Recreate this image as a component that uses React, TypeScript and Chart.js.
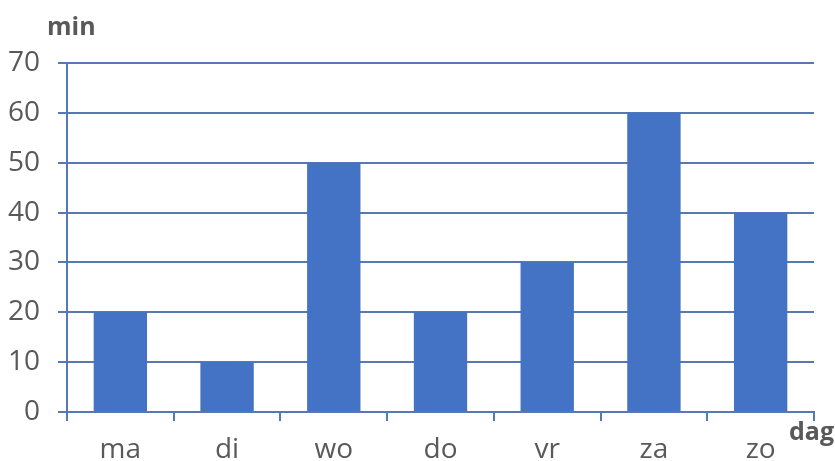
import React, { useEffect, useRef } from "react";
import { Chart, registerables } from "chart.js";

Chart.register(...registerables);

const categories = ["ma", "di", "wo", "do", "vr", "za", "zo"];
const minutes = [20, 10, 50, 20, 30, 60, 40];
const yTitle = "min";
const xTitle = "dag";

const textColor = "#595959";
const gridColor = "#5579b0";
const barColor = "#4472C4";

const titlesPlugin = {
  id: "cornerTitles",
  afterDraw(chart: any) {
    const ctx = chart.ctx;
    ctx.save();
    ctx.fillStyle = textColor;
    ctx.font = "bold 25px 'Open Sans'";
    ctx.textBaseline = "alphabetic";
    ctx.textAlign = "left";
    ctx.fillText(yTitle, 47, 35);
    ctx.fillText(xTitle, 789, 440);
    ctx.restore();
  },
};

export default function App() {
  const ref = useRef<HTMLCanvasElement>(null);
  useEffect(() => {
    if (!ref.current) return;
    const chart = new Chart(ref.current, {
      type: "bar",
      data: {
        labels: categories,
        datasets: [
          {
            data: minutes,
            backgroundColor: barColor,
            borderWidth: 0,
            categoryPercentage: 1,
            barPercentage: 0.5,
          },
        ],
      },
      options: {
        animation: false,
        responsive: false,
        maintainAspectRatio: false,
        layout: { padding: { top: 63, right: 21, bottom: 0, left: 0 } },
        plugins: { legend: { display: false }, tooltip: { enabled: false } },
        scales: {
          x: {
            offset: true,
            grid: {
              offset: true,
              drawOnChartArea: false,
              drawTicks: true,
              tickLength: 9,
              color: gridColor,
              lineWidth: 2,
            },
            border: { color: gridColor, width: 2 },
            ticks: {
              color: textColor,
              font: { family: "'Open Sans'", size: 28 },
              padding: 12,
            },
            afterFit(scale: any) {
              scale.height = 49;
            },
          },
          y: {
            min: 0,
            max: 70,
            ticks: {
              stepSize: 10,
              color: textColor,
              font: { family: "'Open Sans'", size: 28 },
              padding: 18,
            },
            grid: {
              color: gridColor,
              lineWidth: 2,
              drawTicks: true,
              tickLength: 9,
            },
            border: { color: gridColor, width: 2 },
            afterFit(scale: any) {
              scale.width = 67;
            },
          },
        },
      },
      plugins: [titlesPlugin],
    });
    return () => chart.destroy();
  }, []);
  return (
    <div style={{ position: "fixed", left: 0, top: 0, width: 835, height: 461, background: "#fff" }}>
      <canvas ref={ref} width={835} height={461} style={{ display: "block" }} />
    </div>
  );
}
